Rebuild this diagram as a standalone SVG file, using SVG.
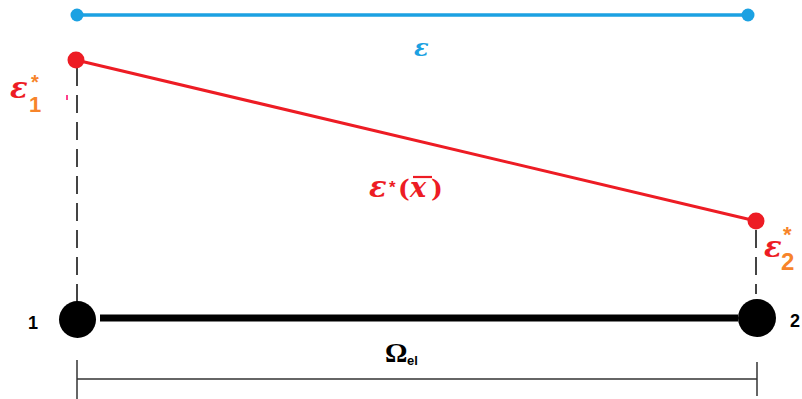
<svg xmlns="http://www.w3.org/2000/svg" width="802" height="399" viewBox="0 0 802 399">
<style>
.math{font-family:"DejaVu Serif","Liberation Serif",serif;font-weight:bold;font-style:italic}
.sub{font-family:"Liberation Sans",Arial,sans-serif;font-weight:bold}
.red{fill:#ED1C24}
.org{fill:#F7842A}
.dash{stroke:#444;stroke-width:2;stroke-dasharray:18 9;fill:none}
.dim{stroke:#333;stroke-width:1.5;fill:none}
</style>
<rect width="802" height="399" fill="#fff"/>
<g id="connectors">
  <line x1="77" y1="15" x2="748" y2="15" stroke="#1BA1E2" stroke-width="3.5"/>
  <line x1="76" y1="60" x2="756" y2="221" stroke="#ED1C24" stroke-width="3"/>
  <line class="dash" x1="77" y1="68" x2="77" y2="302"/>
  <line class="dash" x1="756" y1="230" x2="756" y2="294"/>
  <line x1="100" y1="318" x2="738" y2="318" stroke="#000" stroke-width="7"/>
  <line class="dim" x1="77" y1="379" x2="757" y2="379"/>
  <line class="dim" x1="77" y1="360" x2="77" y2="399"/>
  <line class="dim" x1="757" y1="362" x2="757" y2="396"/>
  <line x1="67" y1="95" x2="67" y2="100" stroke="#F06" stroke-width="1.5"/>
</g>
<g id="node-blue-left"><circle cx="77" cy="15" r="6.5" fill="#1BA1E2"/></g>
<g id="node-blue-right"><circle cx="748" cy="15" r="6.5" fill="#1BA1E2"/></g>
<g id="node-red-1"><circle cx="76" cy="60" r="8.5" fill="#ED1C24"/></g>
<g id="node-red-2"><circle cx="756" cy="221" r="8.5" fill="#ED1C24"/></g>
<g id="node-1"><circle cx="77.5" cy="319.5" r="18.5" fill="#000"/>
  <text x="28" y="329" class="sub" font-size="18" fill="#000">1</text></g>
<g id="node-2"><circle cx="757" cy="318" r="19" fill="#000"/>
  <text x="790" y="327" class="sub" font-size="18" fill="#000">2</text></g>
<g id="labels">
  <text x="414" y="56" class="math" font-size="24" fill="#1BA1E2">ε</text>
  <text x="10" y="98" class="math red" font-size="29">ε</text>
  <text x="31" y="89" class="sub org" font-size="20">*</text>
  <text x="29" y="112" class="sub org" font-size="22">1</text>
  <text x="764" y="257" class="math red" font-size="29">ε</text>
  <text x="783" y="242" class="sub org" font-size="22">*</text>
  <text x="781" y="270" class="sub org" font-size="24">2</text>
  <text x="369" y="197" class="math red" font-size="29">ε</text>
  <text x="389" y="193" class="sub red" font-size="17">*</text>
  <text x="398" y="197" font-family="DejaVu Serif,serif" font-weight="bold" font-size="25" class="red">(</text>
  <text x="410" y="197" class="math red" font-size="27">x</text>
  <line x1="413" y1="177" x2="432" y2="177" stroke="#ED1C24" stroke-width="2.2"/>
  <text x="431" y="197" font-family="DejaVu Serif,serif" font-weight="bold" font-size="25" class="red">)</text>
  <text x="385" y="362" font-family="Liberation Serif,serif" font-weight="bold" font-size="28" fill="#000">Ω</text>
  <text x="407" y="365" class="sub" font-size="13" fill="#000">el</text>
</g>
</svg>
